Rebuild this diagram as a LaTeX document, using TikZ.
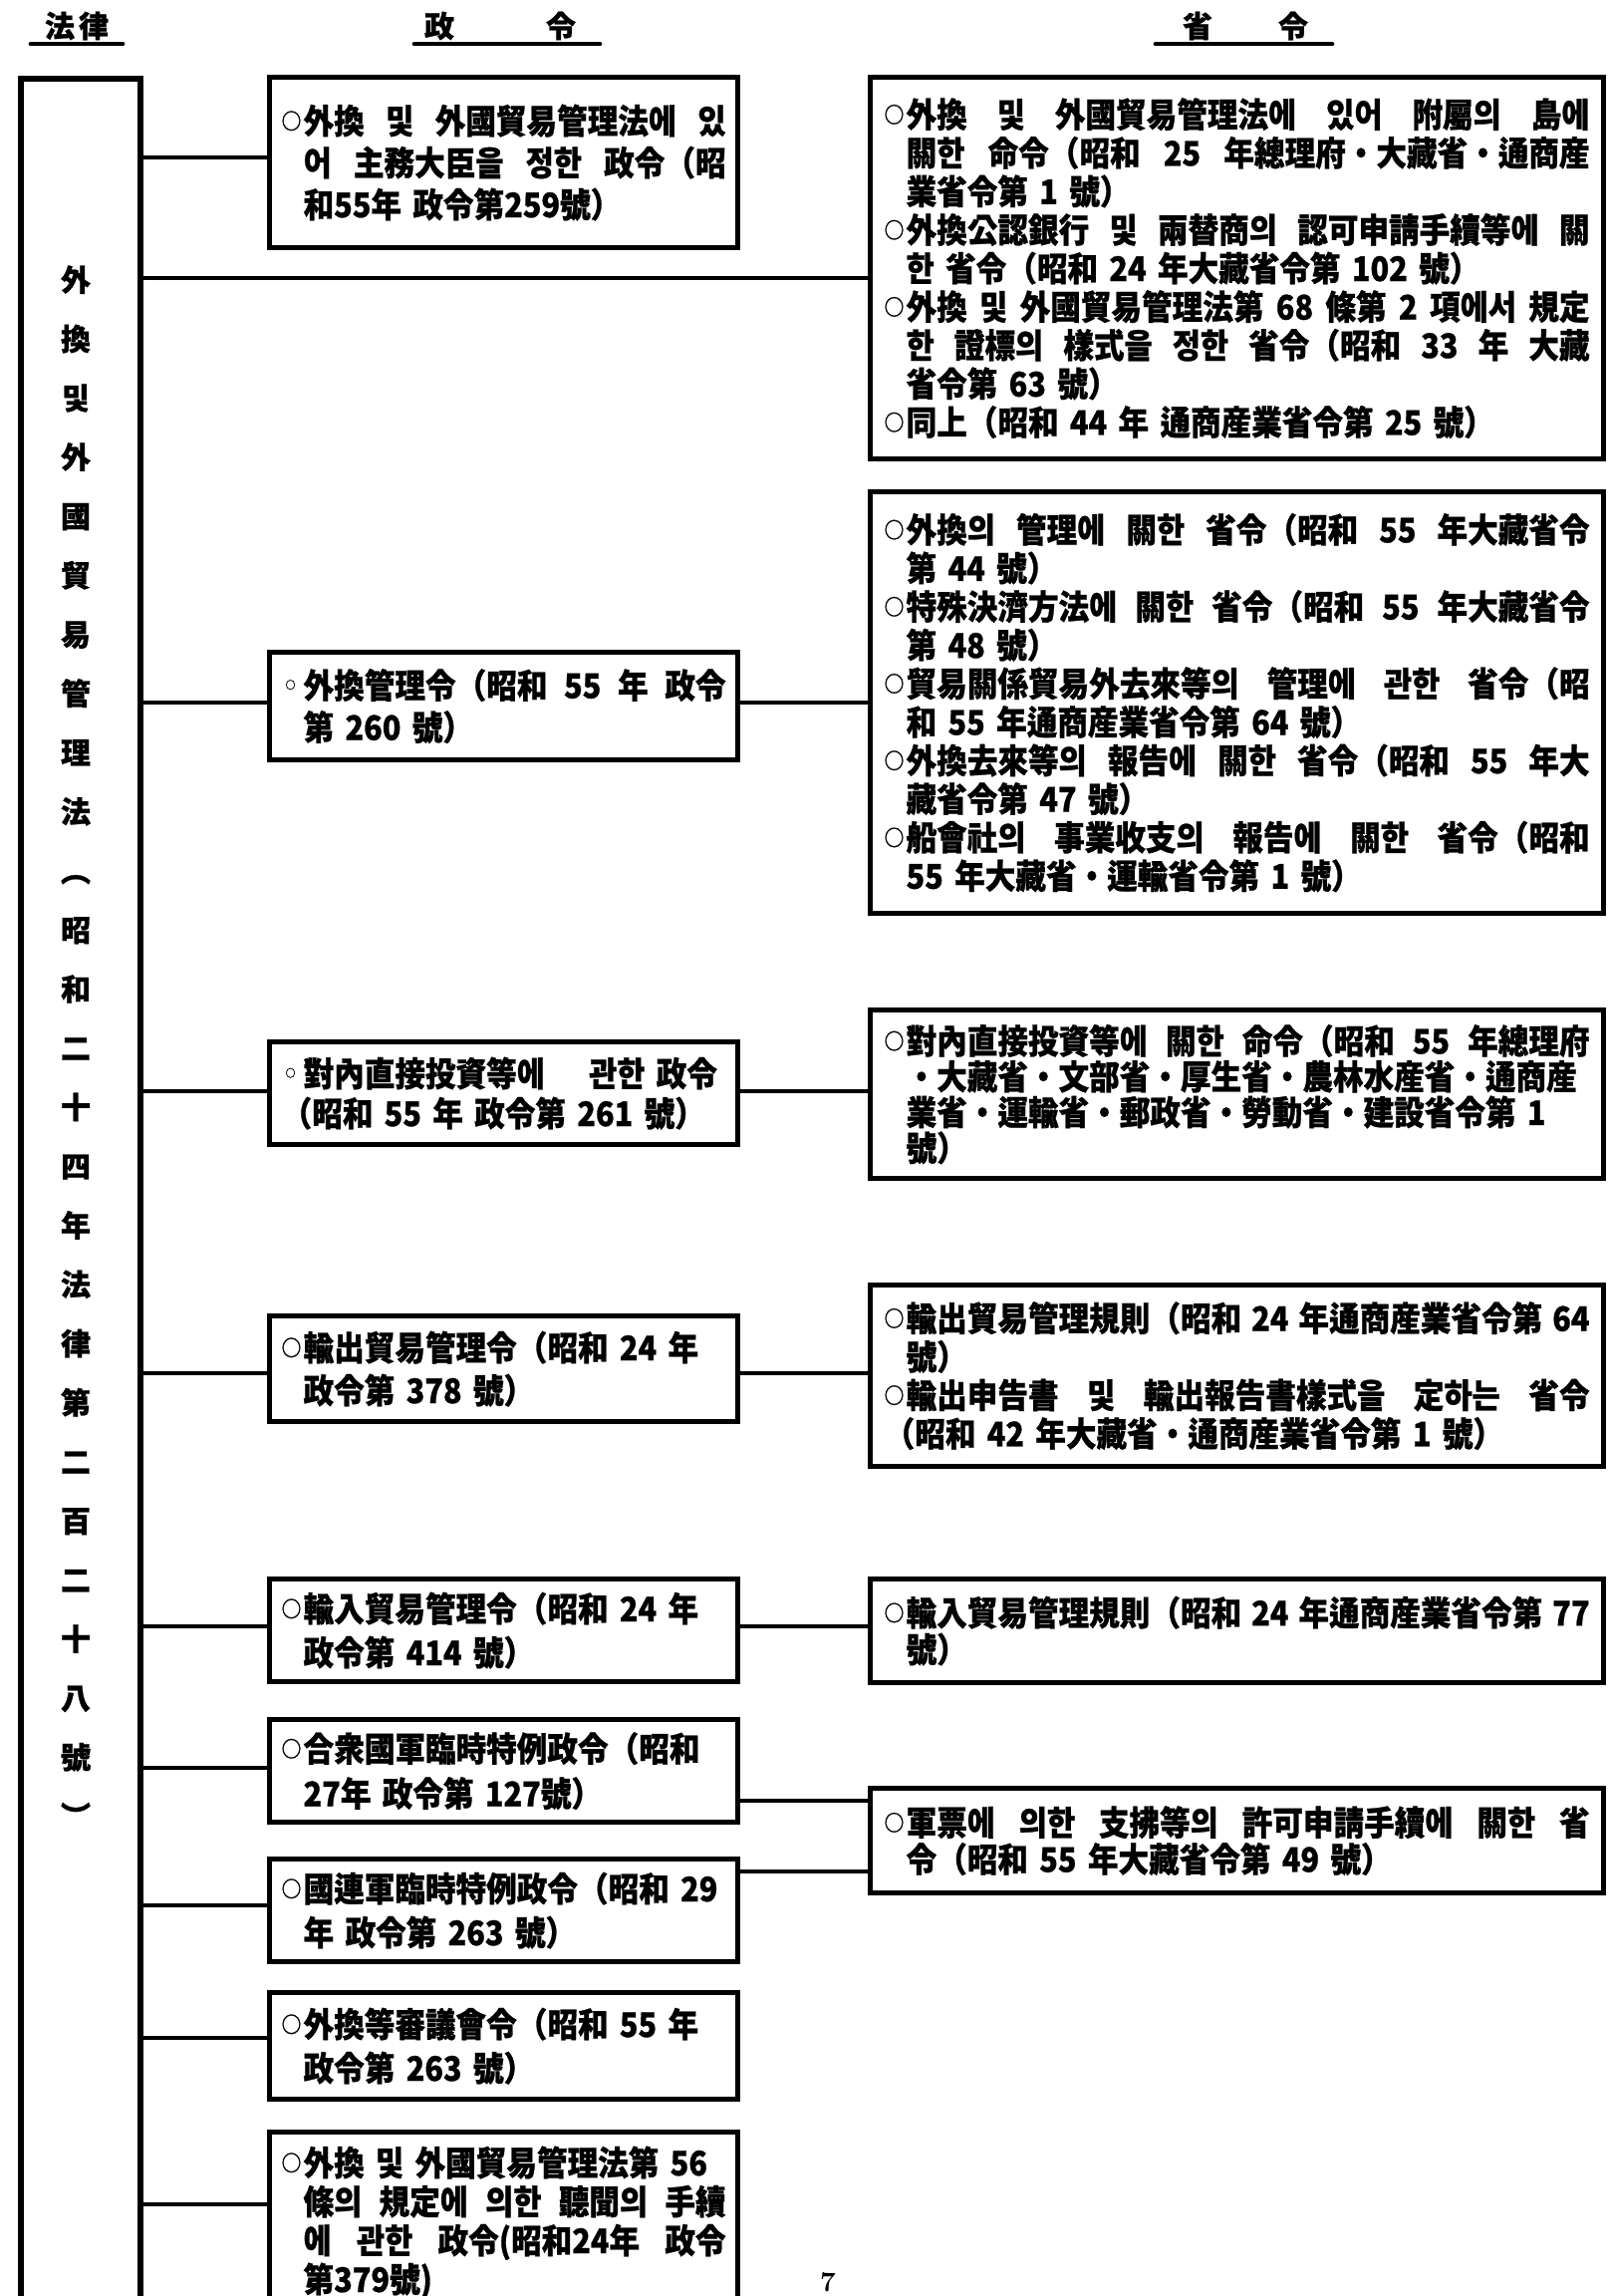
\documentclass[tikz,border=0pt]{standalone}
\usepackage{fontspec}
\newfontfamily\kr{Noto Sans CJK KR}[FakeStretch=0.9,WordSpace=1.6,BoldFeatures={FakeBold=0.8}]
\newfontfamily\krv{Noto Sans CJK KR}[BoldFeatures={FakeBold=0.8}]
% justified lines stretch between characters as well as at spaces
\XeTeXlinebreaklocale "ko"
\XeTeXlinebreakskip=0pt plus 1.5pt
% bullets and line helpers
\newcommand\bul{\makebox[11pt][l]{\raisebox{2.2pt}{\fontsize{11}{11}\selectfont ○}}}
\newcommand\sbul{\makebox[11pt][l]{\hspace{2pt}\raisebox{4.6pt}{\fontsize{5.5}{5.5}\selectfont ○}}}
\newcommand\ind{\hspace*{11pt}}
\newcommand\spread{\spaceskip=0.36em plus 0.6em minus 0.1em\relax}
\newcommand\wa[1]{\makebox[223pt][s]{\spread#1}}
\newcommand\wai[1]{\ind\makebox[212pt][s]{\spread#1}}
\newcommand\wb[1]{\makebox[354pt][s]{\spread#1}}
\newcommand\wbi[1]{\ind\makebox[343pt][s]{\spread#1}}
\begin{document}
\begin{tikzpicture}[x=0.5pt,y=-0.5pt,
  txt/.style={font=\kr\bfseries\fontsize{17}{#1}\selectfont},
  frame/.style={draw,line width=2.6pt,anchor=north west,inner ysep=0pt,align=left},
  seirei/.style={frame,inner xsep=6pt,text width=223pt,minimum width=235pt,minimum height=#1},
  shorei/.style={frame,inner xsep=7pt,text width=354pt,minimum width=368pt,minimum height=#1},
  link/.style={line width=1.8pt},
  head/.style={font=\krv\bfseries\fontsize{15}{15}\selectfont,inner sep=0pt},
  underline/.style={line width=2.4pt,line cap=round}]
\useasboundingbox (0,0) rectangle (1613,2304);
\clip (0,0) rectangle (1613,2304);

% column heads
\node[head] (hlaw) at (77,26) {法\hspace{2pt}律};
\node[head] (hsei) at (502,26) {政\hspace{46pt}令};
\node[head] (hsho) at (1250,26) {省\hspace{33pt}令};
\draw[underline] (31,44) -- (123,44);
\draw[underline] (416,44) -- (602,44);
\draw[underline] (1160,44) -- (1337,44);

% the law
\node[draw,line width=3.2pt,anchor=north west,inner sep=0pt,minimum width=60pt,minimum height=1130pt] (law) at (18,76) {};
\node[font=\krv\bfseries\fontsize{15}{29.65}\selectfont,align=center,anchor=north,inner sep=0pt] (lawtxt) at (76,266)
  {外\\換\\및\\外\\國\\貿\\易\\管\\理\\法\\︵\\昭\\和\\二\\十\\四\\年\\法\\律\\第\\二\\百\\二\\十\\八\\號\\︶};

% cabinet orders
\node[seirei=85.5pt,txt=21pt] (A) at (268,75)
  {\wa{\bul 外換 및 外國貿易管理法에 있}\\ \wai{어 主務大臣을 정한 政令（昭}\\ \ind 和55年 政令第259號）};
\node[seirei=54pt,txt=21pt] (B) at (268,652)
  {\wa{\sbul 外換管理令（昭和 55 年 政令}\\ \ind 第 260 號）};
\node[seirei=51.5pt,txt=20pt] (C) at (268,1043)
  {\mbox{\sbul 對內直接投資等에\hspace{1.3em}관한 政令}\\ （昭和 55 年 政令第 261 號）};
\node[seirei=53pt,txt=21.5pt] (D) at (268,1318)
  {\bul 輸出貿易管理令（昭和 24 年\\ \ind 政令第 378 號）};
\node[seirei=51.5pt,txt=22pt] (E) at (268,1582)
  {\bul 輸入貿易管理令（昭和 24 年\\ \ind 政令第 414 號）};
\node[seirei=51.5pt,txt=22.5pt] (F) at (268,1723)
  {\bul 合衆國軍臨時特例政令（昭和\\ \ind 27年 政令第 127號）};
\node[seirei=51.5pt,txt=22pt] (G) at (268,1863)
  {\bul 國連軍臨時特例政令（昭和 29\\ \ind 年 政令第 263 號）};
\node[seirei=53.5pt,txt=22pt] (H) at (268,1997)
  {\bul 外換等審議會令（昭和 55 年\\ \ind 政令第 263 號）};
\node[seirei=0pt,inner ysep=7pt,txt=19.5pt] (I) at (268,2137)
  {\bul 外換 및 外國貿易管理法第 56\\ \wai{條의 規定에 의한 聽聞의 手續}\\ \wai{에 관한 政令(昭和24年 政令}\\ \ind 第379號)};

% ministerial orders
\node[shorei=191.5pt,txt=19.3pt] (S1) at (871,75)
  {\wb{\bul 外換 및 外國貿易管理法에 있어 附屬의 島에}\\
   \wbi{關한 命令（昭和 25 年總理府・大藏省・通商産}\\
   \ind 業省令第 1 號）\\
   \wb{\bul 外換公認銀行 및 兩替商의 認可申請手續等에 關}\\
   \ind 한 省令（昭和 24 年大藏省令第 102 號）\\
   \wb{\bul 外換 및 外國貿易管理法第 68 條第 2 項에서 規定}\\
   \wbi{한 證標의 樣式을 정한 省令（昭和 33 年 大藏}\\
   \ind 省令第 63 號）\\
   \bul 同上（昭和 44 年 通商産業省令第 25 號）};
\node[shorei=211.5pt,txt=19.3pt] (S2) at (871,491)
  {\wb{\bul 外換의 管理에 關한 省令（昭和 55 年大藏省令}\\
   \ind 第 44 號）\\
   \wb{\bul 特殊決濟方法에 關한 省令（昭和 55 年大藏省令}\\
   \ind 第 48 號）\\
   \wb{\bul 貿易關係貿易外去來等의 管理에 관한 省令（昭}\\
   \ind 和 55 年通商産業省令第 64 號）\\
   \wb{\bul 外換去來等의 報告에 關한 省令（昭和 55 年大}\\
   \ind 藏省令第 47 號）\\
   \wb{\bul 船會社의 事業收支의 報告에 關한 省令（昭和}\\
   \ind 55 年大藏省・運輸省令第 1 號）};
\node[shorei=84.5pt,txt=17.9pt] (S3) at (871,1011)
  {\wb{\bul 對內直接投資等에 關한 命令（昭和 55 年總理府}\\
   \wbi{・大藏省・文部省・厚生省・農林水産省・通商産}\\
   \ind 業省・運輸省・郵政省・勞動省・建設省令第 1\\
   \ind 號）};
\node[shorei=91pt,txt=19.3pt] (S4) at (871,1287)
  {\wb{\bul 輸出貿易管理規則（昭和 24 年通商産業省令第 64}\\
   \ind 號）\\
   \wb{\bul 輸出申告書 및 輸出報告書樣式을 定하는 省令}\\
   （昭和 42 年大藏省・通商産業省令第 1 號）};
\node[shorei=52pt,txt=18.4pt] (S5) at (871,1582)
  {\wb{\bul 輸入貿易管理規則（昭和 24 年通商産業省令第 77}\\
   \ind 號）};
\node[shorei=52.5pt,txt=18.4pt] (S6) at (871,1792)
  {\wb{\bul 軍票에 의한 支拂等의 許可申請手續에 關한 省}\\
   \ind 令（昭和 55 年大藏省令第 49 號）};

% connector heights
\coordinate (yS) at (0,279);
\coordinate (yA) at (0,158);
\coordinate (yB) at (0,705);
\coordinate (yC) at (0,1095);
\coordinate (yD) at (0,1378);
\coordinate (yE) at (0,1632);
\coordinate (yF) at (0,1774);
\coordinate (yFr) at (0,1807);
\coordinate (yG) at (0,1912);
\coordinate (yGr) at (0,1878);
\coordinate (yH) at (0,2045);
\coordinate (yI) at (0,2212);

% law to orders
\draw[link] (law.east |- yS) -- (S1.west |- yS);
\foreach \b in {A,B,C,D,E,F,G,H,I}
  \draw[link] (law.east |- y\b) -- (\b.west |- y\b);
% cabinet orders to ministerial orders
\draw[link] (B.east |- yB) -- (S2.west |- yB);
\draw[link] (C.east |- yC) -- (S3.west |- yC);
\draw[link] (D.east |- yD) -- (S4.west |- yD);
\draw[link] (E.east |- yE) -- (S5.west |- yE);
\draw[link] (F.east |- yFr) -- (S6.west |- yFr);
\draw[link] (G.east |- yGr) -- (S6.west |- yGr);

% page number
\node[font=\bfseries\fontsize{14}{14}\selectfont,anchor=north,inner sep=0pt] (pg) at (831,2280) {7};
\end{tikzpicture}
\end{document}
